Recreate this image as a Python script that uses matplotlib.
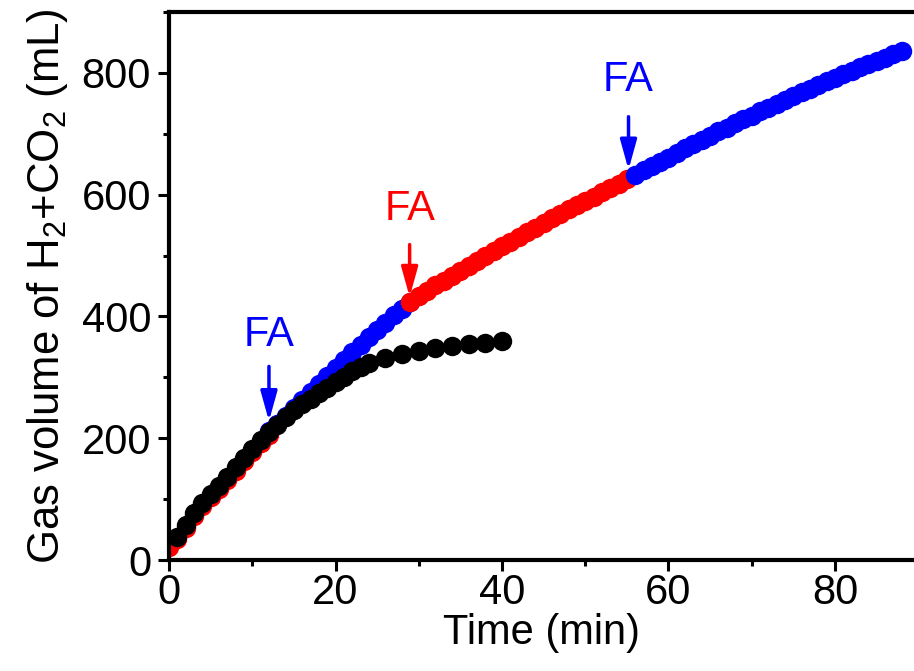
import matplotlib
matplotlib.use("Agg")
import matplotlib.pyplot as plt
from matplotlib.ticker import MultipleLocator

# early red run (mostly hidden under the black curve)
red1_t = [0, 1, 2, 3, 4, 5, 6, 7, 8, 9, 10, 11, 12]
red1_v = [22, 34, 53, 72, 89, 103, 117, 132, 147, 162, 177, 192, 206]

# blue run, first FA addition
blue1_t = [12, 13, 14, 15, 16, 17, 18, 19, 20, 21, 22, 23, 24, 25, 26, 27, 28, 29]
blue1_v = [212, 224, 237, 250, 263, 276, 289, 302, 315, 328, 341, 353, 366, 378,
           390, 402, 413, 424]

# black reference run
black_t = [1, 2, 3, 4, 5, 6, 7, 8, 9, 10, 11, 12, 13, 14, 15, 16, 17, 18, 19, 20,
           21, 22, 23, 24, 26, 28, 30, 32, 34, 36, 38, 40]
black_v = [38, 58, 78, 94, 108, 122, 137, 152, 167, 182, 197, 210, 222, 235, 246,
           256, 265, 274, 283, 292, 301, 310, 317, 323, 331, 339, 344, 348, 351,
           355, 357, 359]

# red run, second FA addition
red2_t = list(range(29, 56))
red2_v = [424, 433, 442, 451, 459, 467, 475, 483, 491, 499, 507, 515, 523, 531,
          538, 546, 553, 561, 568, 576, 583, 590, 597, 604, 611, 618, 625]

# blue run, third FA addition
blue2_t = list(range(56, 89))
blue2_v = [632, 640, 647, 654, 661, 669, 676, 683, 690, 697, 704, 710, 717, 724,
           730, 737, 743, 749, 755, 762, 768, 774, 780, 786, 792, 798, 803, 809,
           814, 820, 825, 831, 836]

# FA addition markers: (x, label y, arrow top, arrow tip, colour)
fa_marks = [
    (12.0, 370, 318, 228, "#0000ff"),
    (28.9, 576, 518, 432, "#ff0000"),
    (55.2, 788, 728, 641, "#0000ff"),
]

plt.rcParams["font.family"] = ["Liberation Sans", "DejaVu Sans"]
plt.rcParams["mathtext.fontset"] = "custom"
plt.rcParams["mathtext.rm"] = "Liberation Sans"
plt.rcParams["mathtext.it"] = "Liberation Sans"

fig = plt.figure(figsize=(9.14, 6.71), dpi=100)
ax = fig.add_axes([0.185, 0.1654, 0.815, 0.8167])

ms = 14
ax.plot(red1_t, red1_v, "o", color="#ff0000", ms=ms, mec="none", zorder=2)
ax.plot(blue1_t, blue1_v, "o", color="#0000ff", ms=ms, mec="none", zorder=3)
ax.plot(black_t, black_v, "o", color="black", ms=ms, mec="none", zorder=4)
ax.plot(red2_t, red2_v, "o", color="#ff0000", ms=ms, mec="none", zorder=5)
ax.plot(blue2_t, blue2_v, "o", color="#0000ff", ms=ms, mec="none", zorder=6)

for x, ty, y0, y1, c in fa_marks:
    ax.text(x, ty, "FA", color=c, fontsize=30, ha="center", va="center")
    ax.annotate("", xy=(x, y1), xytext=(x, y0),
                arrowprops=dict(arrowstyle="-|>,head_width=0.25,head_length=0.9",
                                color=c, lw=2.5, mutation_scale=20,
                                shrinkA=0, shrinkB=0))

ax.set_xlim(0, 89.5)
ax.set_ylim(0, 900)
ax.xaxis.set_major_locator(MultipleLocator(20))
ax.xaxis.set_minor_locator(MultipleLocator(10))
ax.yaxis.set_major_locator(MultipleLocator(200))
ax.yaxis.set_minor_locator(MultipleLocator(100))

for side in ["left", "bottom", "top"]:
    ax.spines[side].set_linewidth(3)
ax.spines["right"].set_visible(False)
ax.tick_params(which="major", direction="out", length=8, width=2.2,
               labelsize=30, top=False, right=False)
ax.tick_params(which="minor", direction="out", length=4.5, width=2.2,
               top=False, right=False)
ax.tick_params(axis="x", which="major", pad=1)
ax.tick_params(axis="y", which="major", pad=5)

ax.set_xlabel("Time (min)", fontsize=30, labelpad=0)
ax.set_ylabel("Gas volume of H$_2$+CO$_2$ (mL)", fontsize=31.5, labelpad=8)

fig.savefig("out.png", dpi=100)
